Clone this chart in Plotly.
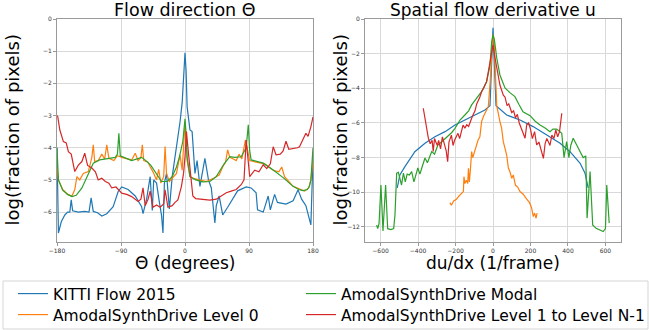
import plotly.graph_objects as go

W, H = 649, 330

# ---------------- Left panel: flow direction (degrees) ----------------
kitti_theta_x = [-180, -178, -174, -169, -165, -162, -160, -158, -150, -141, -135, -132, -129, -123, -117, -110,
                 -101, -94, -89, -80, -70, -64, -61, -59, -54, -49, -46, -44, -40, -36, -33, -31, -29, -26, -22,
                 -18, -14, -10, -7, -4, -1.5, 0, 1.5, 3, 7, 10, 14, 17, 21, 28, 33, 37, 42, 44, 48, 53, 60, 67,
                 74, 86, 93, 100, 102, 110, 117, 120, 126, 130, 142, 152, 159, 164, 170, 177, 180]
kitti_theta_y = [-4.0, -6.65, -6.3, -6.09, -6.0, -6.0, -5.62, -5.96, -6.0, -5.98, -6.0, -5.56, -5.98, -6.02, -6.12,
                 -6.05, -5.83, -5.36, -5.22, -5.3, -5.5, -5.7, -5.83, -6.05, -5.6, -4.9, -5.95, -5.0, -5.1, -5.7,
                 -6.1, -6.65, -5.1, -4.8, -5.9, -4.9, -4.3, -3.55, -3.2, -2.6, -1.5, -1.05, -1.6, -2.73, -3.45,
                 -3.5, -4.8, -4.4, -5.2, -4.33, -5.0, -5.25, -6.34, -5.8, -5.5, -6.09, -5.85, -5.6, -5.34, -5.22,
                 -5.25, -5.4, -5.93, -6.0, -5.5, -5.93, -5.45, -5.7, -5.75, -5.65, -5.31, -5.6, -5.8, -6.4, -4.3]

level0_theta_x = [-180, -178, -172, -165, -159, -155, -152, -148, -143, -136, -131, -129, -127, -122, -117, -113,
                  -110, -107, -100, -95, -89, -82, -75, -70, -66, -62, -60, -58, -52, -49, -45, -40, -37, -34, -30,
                  -28, -26, -22, -16, -12, -7, -4, -1, 0, 1, 3, 7, 12, 20, 30, 40, 48, 53, 57, 60, 63, 68, 72, 76,
                  80, 85, 88, 91, 100, 112, 124, 132, 136, 140, 152, 162, 168, 174, 177, 180]
level0_theta_y = [-4.6, -5.0, -5.3, -5.45, -5.5, -5.3, -4.9, -5.0, -4.8, -4.74, -4.3, -3.91, -4.43, -4.4, -4.2,
                  -4.35, -3.91, -4.33, -4.4, -4.25, -4.3, -4.35, -4.38, -4.17, -4.4, -4.3, -3.91, -4.4, -4.45,
                  -4.59, -4.75, -5.0, -4.67, -5.1, -4.9, -3.96, -4.8, -5.05, -4.9, -4.8, -4.22, -4.7, -3.6, -3.2,
                  -3.6, -4.4, -4.9, -4.95, -5.0, -5.05, -4.95, -4.85, -4.6, -4.45, -4.07, -4.3, -4.35, -4.4, -4.2,
                  -4.35, -3.76, -4.1, -4.4, -4.45, -4.5, -4.7, -4.75, -4.6, -4.9, -5.2, -5.3, -5.35, -5.25, -5.0,
                  -4.4]

modal_theta_x = [-180, -178, -172, -165, -159, -153, -145, -138, -129, -120, -110, -98, -95, -93, -91, -85, -75,
                 -61, -55, -48, -42, -36, -33, -25, -18, -12, -8, -3, -1, 0, 1, 3, 7, 15, 25, 35, 44, 55, 63, 70,
                 79, 86, 89, 91, 93, 100, 110, 124, 138, 152, 160, 166, 172, 175, 177, 180]
modal_theta_y = [-4.0, -5.0, -5.32, -5.45, -5.52, -5.48, -5.25, -4.9, -4.48, -4.38, -4.34, -4.3, -4.2, -3.55,
                 -4.25, -4.3, -4.4, -4.3, -4.4, -4.55, -4.74, -4.95, -5.05, -5.05, -4.9, -4.6, -4.3, -3.8, -3.3,
                 -3.1, -3.4, -4.3, -4.9, -5.0, -5.06, -5.05, -4.9, -4.5, -4.28, -4.3, -4.28, -4.0, -3.29, -4.1,
                 -4.38, -4.42, -4.48, -4.69, -4.93, -5.2, -5.3, -5.33, -5.3, -5.2, -5.0, -4.0]

level1_theta_x = [-180, -179, -176, -171, -167, -164, -160, -155, -150, -145, -141, -137, -131, -126, -122, -117,
                  -112, -107, -103, -97, -89, -82, -75, -70, -66, -62, -59, -56, -52, -49, -45, -40, -35, -30, -28,
                  -24, -18, -14, -10, -5, -2, 0, 2, 5, 7, 11, 15, 21, 35, 44, 48, 58, 65, 72, 79, 83, 86, 89, 91,
                  98, 104, 110, 115, 120, 124, 128, 134, 138, 142, 146, 152, 158, 161, 165, 170, 173, 177, 180]
level1_theta_y = [-3.0, -3.03, -3.45, -3.81, -3.85, -4.12, -4.2, -4.74, -4.54, -4.43, -4.17, -4.55, -4.63, -4.75,
                  -5.0, -4.95, -5.05, -5.1, -5.25, -5.22, -5.41, -5.45, -5.52, -5.6, -5.67, -5.6, -5.25, -5.8,
                  -5.6, -5.35, -5.85, -5.78, -5.85, -5.75, -5.31, -5.85, -5.8, -5.7, -5.62, -5.2, -4.79, -4.28,
                  -3.5, -4.2, -4.6, -5.5, -5.58, -5.6, -5.63, -5.6, -5.55, -5.4, -5.35, -5.3, -5.15, -5.0, -3.76,
                  -4.6, -4.9, -4.7, -4.75, -4.53, -4.65, -4.5, -3.97, -4.22, -4.2, -4.1, -3.8, -4.05, -4.03, -4.0,
                  -3.97, -3.8, -3.55, -3.65, -3.35, -3.04]

# ---------------- Right panel: spatial derivative du/dx ----------------
kitti_du_x = [-511, -497, -470, -417, -363, -310, -256, -203, -150, -96, -43, -16, 0, 16, 73, 144, 214, 287, 358,
              411, 465, 491, 508]
kitti_du_y = [-9.75, -9.0, -8.52, -7.66, -7.17, -6.79, -6.5, -6.12, -5.83, -5.54, -5.25, -5.0, -0.5, -5.0, -5.54,
              -5.83, -6.21, -6.69, -7.17, -7.66, -8.33, -8.9, -9.75]

level0_du_x = [-230, -222, -210, -195, -180, -165, -158, -155, -150, -142, -135, -131, -126, -120, -114, -108, -100,
               -90, -80, -70, -61, -50, -35, -25, -15, -5, 0, 5, 11, 20, 37, 46, 55, 64, 73, 82, 90, 100, 108, 120,
               132, 144, 160, 180, 195, 206, 215, 222, 230, 235]
level0_du_y = [-10.6, -10.75, -10.5, -10.4, -10.2, -10.0, -9.96, -9.1, -9.5, -9.3, -9.5, -8.62, -9.4, -8.6, -7.65,
               -8.0, -7.7, -7.4, -7.0, -6.8, -5.92, -5.6, -5.3, -5.06, -3.6, -1.5, -0.9, -1.1, -3.2, -5.0, -5.92,
               -6.3, -7.08, -7.5, -7.85, -8.6, -8.8, -9.19, -9.0, -9.6, -9.7, -9.96, -10.1, -10.4, -10.6, -10.9,
               -11.4, -11.2, -11.5, -11.2]

modal_du_x = [-621, -615, -608, -598, -590, -587, -573, -565, -562, -545, -530, -523, -514, -505, -497, -488, -478,
              -468, -458, -446, -434, -422, -401, -390, -380, -363, -350, -338, -327, -312, -294, -275, -256, -240,
              -220, -203, -176, -150, -130, -114, -90, -61, -34, -16, -7, 0, 8, 20, 37, 64, 90, 117, 140, 160, 198,
              225, 251, 280, 304, 320, 340, 355, 367, 379, 393, 405, 415, 428, 454, 481, 495, 502, 518, 532, 550,
              575, 588, 600, 607, 620]
modal_du_y = [-11.89, -12.1, -11.8, -9.58, -11.5, -12.23, -9.58, -11.2, -12.1, -12.15, -12.1, -11.3, -8.9, -8.85,
              -9.3, -9.58, -8.9, -9.4, -8.95, -9.0, -8.81, -9.4, -8.6, -8.95, -8.6, -8.02, -8.3, -7.9, -7.65, -7.8,
              -7.27, -7.1, -6.9, -6.75, -6.55, -6.31, -5.83, -5.54, -5.3, -4.96, -4.6, -4.19, -3.62, -2.66, -1.31,
              -0.9, -1.25, -2.25, -3.23, -3.98, -4.25, -4.48, -4.96, -5.35, -5.58, -5.9, -6.12, -6.3, -6.5, -6.35,
              -6.35, -6.5, -6.6, -8.0, -7.08, -8.0, -7.3, -6.88, -7.45, -8.0, -7.9, -11.49, -8.81, -11.89, -12.08,
              -12.2, -12.27, -12.1, -9.58, -11.77]

level1_du_x = [-372, -345, -335, -325, -319, -312, -305, -297, -290, -280, -270, -260, -250, -242, -235, -222, -213,
               -205, -196, -187, -178, -170, -160, -150, -140, -130, -122, -114, -105, -96, -87, -78, -70, -61, -50,
               -34, -20, -10, 0, 10, 20, 37, 55, 64, 75, 84, 100, 110, 120, 130, 140, 150, 160, 171, 180, 190, 200,
               210, 222, 233, 245, 256, 269, 278, 287, 296, 304, 314, 325, 335, 345, 355, 367]
level1_du_y = [-5.15, -6.88, -7.2, -7.0, -7.65, -6.9, -7.1, -7.3, -7.0, -7.5, -6.8, -7.2, -7.6, -8.23, -7.1, -6.7,
               -7.3, -7.0, -6.8, -6.6, -6.9, -6.5, -6.12, -6.3, -6.1, -6.2, -5.9, -5.73, -5.5, -5.3, -4.9, -4.7,
               -4.5, -4.2, -4.0, -3.6, -2.8, -2.1, -1.5, -2.2, -2.85, -3.81, -4.4, -4.5, -5.0, -4.9, -5.4, -5.3,
               -5.7, -5.5, -6.0, -6.25, -6.5, -6.88, -6.1, -6.0, -6.35, -6.9, -6.5, -7.27, -7.1, -7.5, -8.04, -7.2,
               -6.9, -7.1, -7.3, -6.7, -6.9, -6.4, -6.8, -6.5, -5.44]

series_names = ["KITTI Flow 2015", "AmodalSynthDrive Level 0", "AmodalSynthDrive Modal",
                "AmodalSynthDrive Level 1 to Level N-1"]
colors = ["#1f77b4", "#ff7f0e", "#2ca02c", "#d62728"]
legend_ids = ["legend", "legend2", "legend3", "legend4"]

left_x_ticks = [-180, -90, 0, 90, 180]
left_y_ticks = [0, -1, -2, -3, -4, -5, -6]
right_x_ticks = [-600, -400, -200, 0, 200, 400, 600]
right_y_ticks = [0, -2, -4, -6, -8, -10, -12]

FONT = "DejaVu Sans"

fig = go.Figure()
left_data = [(kitti_theta_x, kitti_theta_y), (level0_theta_x, level0_theta_y),
             (modal_theta_x, modal_theta_y), (level1_theta_x, level1_theta_y)]
right_data = [(kitti_du_x, kitti_du_y), (level0_du_x, level0_du_y),
              (modal_du_x, modal_du_y), (level1_du_x, level1_du_y)]

for i, (xs, ys) in enumerate(left_data):
    fig.add_trace(go.Scatter(x=xs, y=ys, mode="lines", name=series_names[i],
                             line=dict(color=colors[i], width=1.2), legend=legend_ids[i],
                             xaxis="x", yaxis="y", showlegend=True))
for i, (xs, ys) in enumerate(right_data):
    fig.add_trace(go.Scatter(x=xs, y=ys, mode="lines", name=series_names[i],
                             line=dict(color=colors[i], width=1.2),
                             xaxis="x2", yaxis="y2", showlegend=False))

def px(x):
    return x / W

def py(y):
    return 1 - y / H

axis_common = dict(showgrid=True, gridcolor="#d9d9d9", gridwidth=1, zeroline=False,
                   showline=True, mirror=True, linecolor="#9a9a9a", linewidth=1,
                   ticks="outside", ticklen=3, tickcolor="#9a9a9a",
                   tickfont=dict(family=FONT, size=6, color="#333333"))

legend_common = dict(orientation="v", yanchor="top", xanchor="left",
                     font=dict(family=FONT, size=15.5, color="black"),
                     bgcolor="rgba(0,0,0,0)", borderwidth=0, itemwidth=30, tracegroupgap=0)

ydom = [py(242), py(19)]
fig.update_layout(
    width=W, height=H, margin=dict(l=0, r=0, t=0, b=0, autoexpand=False),
    paper_bgcolor="white", plot_bgcolor="white",
    font=dict(family=FONT, color="black"),
    xaxis=dict(domain=[px(57), px(313)], range=[-180, 180], tickvals=left_x_ticks, anchor="y", **axis_common),
    yaxis=dict(domain=ydom, range=[-6.93, 0], tickvals=left_y_ticks, anchor="x", **axis_common),
    xaxis2=dict(domain=[px(365), px(621)], range=[-683, 683], tickvals=right_x_ticks, anchor="y2", **axis_common),
    yaxis2=dict(domain=ydom, range=[-12.87, 0], tickvals=right_y_ticks, anchor="x2", **axis_common),
    legend=dict(x=px(13), y=py(277), **legend_common),
    legend2=dict(x=px(13), y=py(298), **legend_common),
    legend3=dict(x=px(301), y=py(277), **legend_common),
    legend4=dict(x=px(301), y=py(298), **legend_common),
    showlegend=True,
)

fig.add_shape(type="rect", xref="paper", yref="paper", x0=px(3), x1=px(648), y0=py(329), y1=py(281),
              line=dict(color="#d5d5d5", width=1), fillcolor="white", layer="below")

ann = [
    dict(text="Flow direction Θ", x=px(185), y=py(10), size=17.5),
    dict(text="Spatial flow derivative u", x=px(493), y=py(10), size=17),
    dict(text="Θ (degrees)", x=px(185), y=py(263), size=17),
    dict(text="du/dx (1/frame)", x=px(493), y=py(263), size=17),
]
for a in ann:
    fig.add_annotation(text=a["text"], x=a["x"], y=a["y"], xref="paper", yref="paper",
                       xanchor="center", yanchor="middle", showarrow=False,
                       font=dict(family=FONT, size=a["size"], color="black"))
for xc in [12, 340]:
    fig.add_annotation(text="log(fraction of pixels)", x=px(xc), y=py(130.5), xref="paper", yref="paper",
                       xanchor="center", yanchor="middle", showarrow=False, textangle=-90,
                       font=dict(family=FONT, size=18, color="black"))

fig.write_html("out.html", config={"displayModeBar": False},
               post_script="document.body.style.margin='0px';document.body.style.padding='0px';")
